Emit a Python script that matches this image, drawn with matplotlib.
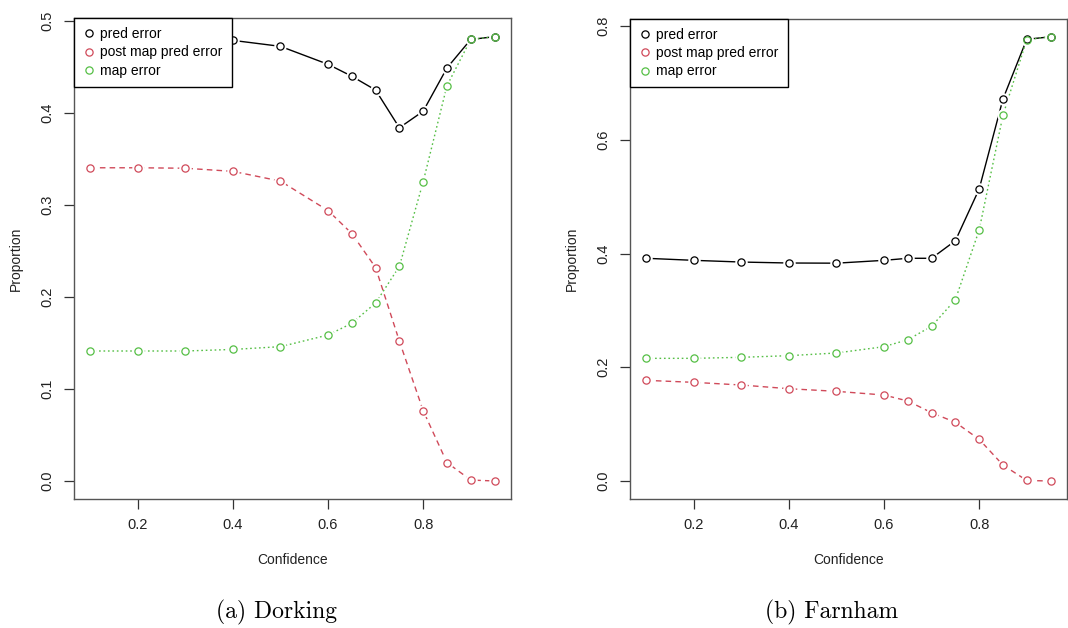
import matplotlib
matplotlib.use("Agg")
import matplotlib.pyplot as plt

# confidence thresholds
conf = [0.1, 0.2, 0.3, 0.4, 0.5, 0.6, 0.65, 0.7, 0.75, 0.8, 0.85, 0.9, 0.95]

# Dorking
dork_pred = [0.482, 0.482, 0.481, 0.479, 0.4725, 0.453, 0.440, 0.425, 0.384, 0.402, 0.449, 0.480, 0.483]
dork_post = [0.3405, 0.3405, 0.340, 0.3366, 0.326, 0.294, 0.269, 0.232, 0.152, 0.0764, 0.020, 0.001, 0.0]
dork_map = [0.1413, 0.1413, 0.1413, 0.143, 0.146, 0.1587, 0.1714, 0.1935, 0.2333, 0.3253, 0.4297, 0.480, 0.483]

# Farnham
farn_pred = [0.3916, 0.388, 0.385, 0.3833, 0.383, 0.388, 0.3916, 0.3916, 0.4225, 0.5134, 0.6716, 0.7766, 0.781]
farn_post = [0.177, 0.1735, 0.1688, 0.1623, 0.1577, 0.1512, 0.1407, 0.1201, 0.1032, 0.0733, 0.0281, 0.001, 0.0]
farn_map = [0.2157, 0.2157, 0.2175, 0.2204, 0.2251, 0.2362, 0.2485, 0.272, 0.3188, 0.4413, 0.643, 0.776, 0.781]

labels = ["pred error", "post map pred error", "map error"]
colors = ["black", "#D04A5A", "#55BF45"]
styles = ["-", (0, (4, 3)), (0, (1.2, 2))]

plt.rcParams['font.family'] = ['Liberation Sans', 'DejaVu Sans']


def draw_panel(ax, series, ylim, yticks):
    for vals, col, ls in zip(series, colors, styles):
        ax.plot(conf, vals, color=col, linestyle=ls, linewidth=1.0, zorder=2)
        # white discs give the R type="b" gaps around the points
        ax.plot(conf, vals, linestyle='none', marker='o', markersize=9,
                markerfacecolor='white', markeredgecolor='none', zorder=3)
    for vals, col in zip(series, colors):
        ax.plot(conf, vals, linestyle='none', marker='o', markersize=5.2,
                markerfacecolor='none', markeredgecolor=col, markeredgewidth=0.9, zorder=4)

    ax.set_xlim(0.066, 0.984)
    ax.set_ylim(*ylim)
    ax.set_xticks([0.2, 0.4, 0.6, 0.8])
    ax.set_xticklabels(["0.2", "0.4", "0.6", "0.8"])
    ax.set_yticks(yticks)
    ax.set_yticklabels(["%.1f" % t for t in yticks], rotation=90, va='center')
    ax.tick_params(direction='out', length=7, width=0.9, colors='#333333',
                   labelsize=10.5, labelcolor='#222222', pad=7)
    for sp in ax.spines.values():
        sp.set_color('#555555')
        sp.set_linewidth(1.0)
    ax.set_xlabel("Confidence", fontsize=10, color='#222222', labelpad=15)
    ax.set_ylabel("Proportion", fontsize=10, color='#222222', labelpad=13)

    handles = [plt.Line2D([], [], linestyle='none', marker='o', markersize=5.2,
                          markerfacecolor='none', markeredgecolor=c,
                          markeredgewidth=0.9) for c in colors]
    leg = ax.legend(handles, labels, loc='upper left', fontsize=10,
                    frameon=True, fancybox=False, framealpha=1.0,
                    borderaxespad=0, handlelength=0.8, handletextpad=0.45,
                    labelspacing=0.3, borderpad=0.65)
    leg.get_frame().set_edgecolor('black')
    leg.get_frame().set_linewidth(1.0)
    leg.set_zorder(10)


fig = plt.figure(figsize=(10.68, 6.28), dpi=100)
W, H = 1068.0, 628.0
ax1 = fig.add_axes([74 / W, (H - 499) / H, 436.7 / W, 480.7 / H])
ax2 = fig.add_axes([630 / W, (H - 499) / H, 436.7 / W, 480.0 / H])

draw_panel(ax1, [dork_pred, dork_post, dork_map], (-0.0196, 0.503),
           [0.0, 0.1, 0.2, 0.3, 0.4, 0.5])
draw_panel(ax2, [farn_pred, farn_post, farn_map], (-0.0316, 0.8123),
           [0.0, 0.2, 0.4, 0.6, 0.8])

fig.text(276 / W, 1 - 612 / H, "(a) Dorking", family='cmr10', fontsize=17,
         ha='center', va='center')
fig.text(831.5 / W, 1 - 612 / H, "(b) Farnham", family='cmr10', fontsize=17,
         ha='center', va='center')

fig.savefig("out.png", dpi=100)
